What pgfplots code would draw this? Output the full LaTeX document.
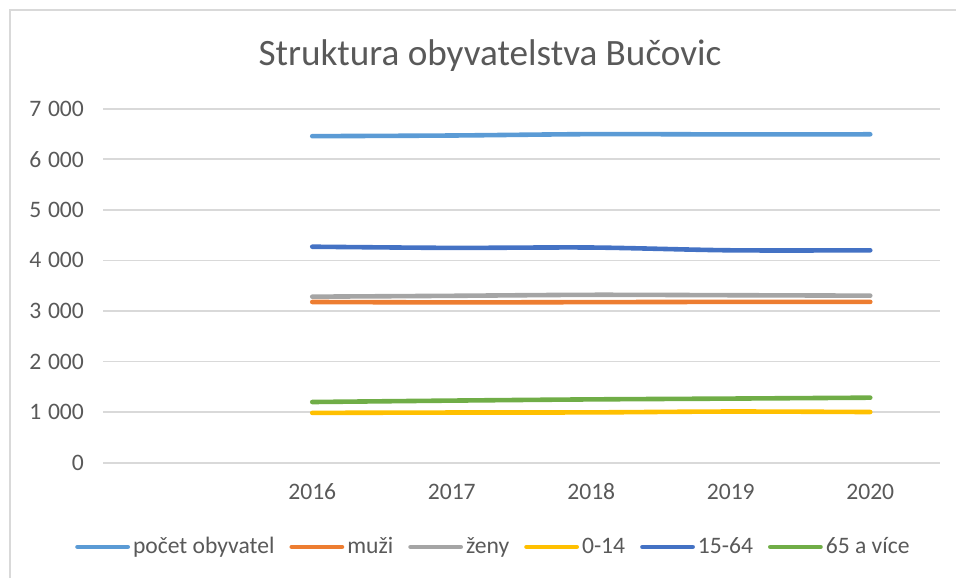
\documentclass[border=0pt]{standalone}
\usepackage{fontspec}
\setmainfont{Carlito}
\usepackage{pgfplots}
\pgfplotsset{compat=1.18}
\definecolor{cA}{HTML}{5B9BD5}
\definecolor{cB}{HTML}{ED7D31}
\definecolor{cC}{HTML}{A5A5A5}
\definecolor{cD}{HTML}{FFC000}
\definecolor{cE}{HTML}{4472C4}
\definecolor{cF}{HTML}{70AD47}
\definecolor{txt}{HTML}{595959}
\definecolor{grd}{HTML}{D9D9D9}
\begin{document}
\begin{tikzpicture}
\path[use as bounding box] (0,0) rectangle (478pt,289pt);
\draw[grd, line width=1pt] (4.75pt,0) -- (4.75pt,284pt) -- (478pt,284pt);
\node[txt, font=\fontsize{18.6pt}{22pt}\selectfont] at (245pt,261pt) {Struktura obyvatelstva Bučovic};
\begin{axis}[
  at={(51.5pt,57.65pt)}, anchor=south west,
  scale only axis, width=418.5pt, height=177pt,
  xmin=-0.5, xmax=5.5, ymin=0, ymax=7000,
  axis line style={draw=none},
  xtick={1,2,3,4,5}, xticklabels={2016,2017,2018,2019,2020},
  ytick={0,1000,2000,3000,4000,5000,6000,7000},
  yticklabels={0,1\hspace{0.28em}000,2\hspace{0.28em}000,3\hspace{0.28em}000,4\hspace{0.28em}000,5\hspace{0.28em}000,6\hspace{0.28em}000,7\hspace{0.28em}000},
  major tick length=0pt,
  ymajorgrids, grid style={grd, line width=0.9pt},
  ticklabel style={txt, font=\fontsize{11.8pt}{14pt}\selectfont},
  yticklabel style={xshift=-6pt},
  xticklabel style={yshift=-7pt},
  legend columns=6,
  legend style={draw=none, fill=none, at={(0.467,-0.238)}, anchor=center,
    font=\fontsize{11.8pt}{14pt}\selectfont, text=txt,
    nodes={inner xsep=1.5pt, inner ysep=1pt},
    /tikz/every even column/.append style={column sep=6pt}},
  legend image code/.code={\draw[#1, line cap=round] (1.2pt,0pt) -- (26.3pt,0pt);},
  every axis plot/.append style={line width=2.3pt, smooth, line cap=round, line join=round},
]
\addplot[cA] coordinates {(1,6457) (2,6470) (3,6497) (4,6492) (5,6494)};
\addlegendentry{počet obyvatel}
\addplot[cB] coordinates {(1,3178) (2,3170) (3,3175) (4,3180) (5,3180)};
\addlegendentry{muži}
\addplot[cC] coordinates {(1,3283) (2,3300) (3,3320) (4,3312) (5,3303)};
\addlegendentry{ženy}
\addplot[cD] coordinates {(1,985) (2,992) (3,995) (4,1012) (5,1002)};
\addlegendentry{0-14}
\addplot[cE] coordinates {(1,4271) (2,4248) (3,4255) (4,4200) (5,4200)};
\addlegendentry{15-64}
\addplot[cF] coordinates {(1,1200) (2,1228) (3,1252) (4,1268) (5,1286)};
\addlegendentry{65 a více}
\end{axis}
\end{tikzpicture}
\end{document}
